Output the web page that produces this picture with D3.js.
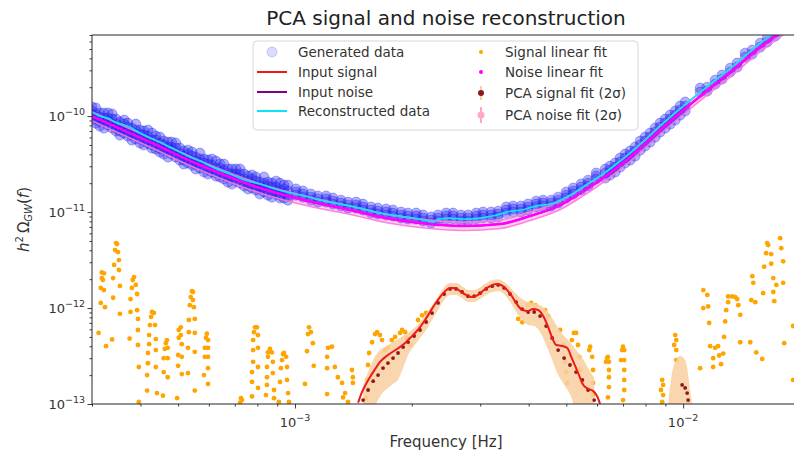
<!DOCTYPE html>
<html><head><meta charset="utf-8">
<script src="https://cdn.jsdelivr.net/npm/d3@7"></script>
<style>body{margin:0;background:#fff;} svg{display:block;font-family:"DejaVu Sans",sans-serif;}</style>
</head><body><svg id="c" width="794" height="453"></svg>
<script>
// ---------------- DATA ----------------
const xMajorTicks = [1e-3, 1e-2];
const xMajorExp = ["\u22123", "\u22122"];
const yMajorTicks = [1e-13, 1e-12, 1e-11, 1e-10];
const yMajorExp = ["\u221213", "\u221212", "\u221211", "\u221210"];

// Input noise / noise linear fit
const noiseFreq = [3.0e-4,4.23e-4,5.69e-4,8.12e-4,1.11e-3,1.39e-3,1.66e-3,2.10e-3,2.71e-3,3.38e-3,4.03e-3,4.82e-3,5.43e-3,6.11e-3,7.30e-3,8.72e-3,1.0e-2,1.174e-2,1.345e-2,1.58e-2,1.727e-2,2.0e-2];
const noiseOmega = [1.00e-10,5.36e-11,3.09e-11,1.78e-11,1.27e-11,1.05e-11,8.87e-12,7.68e-12,7.15e-12,7.50e-12,9.08e-12,1.18e-11,1.57e-11,2.15e-11,3.75e-11,7.15e-11,1.15e-10,1.95e-10,3.01e-10,5.23e-10,6.81e-10,1.05e-9];
// PCA noise fit: relative 2-sigma error
const pcaNoiseErr = [0.11,0.11,0.11,0.11,0.11,0.10,0.10,0.10,0.10,0.10,0.10,0.10,0.10,0.10,0.10,0.10,0.10,0.10,0.10,0.10,0.10,0.10];

// Reconstructed data
const reconFreq = [3.00e-4,3.14e-4,3.30e-4,3.44e-4,3.58e-4,3.75e-4,3.99e-4,4.23e-4,4.49e-4,4.76e-4,5.05e-4,5.36e-4,5.69e-4,6.22e-4,6.80e-4,7.44e-4,8.12e-4,8.88e-4,9.71e-4,1.061e-3,1.160e-3,1.306e-3,1.471e-3,1.656e-3,1.865e-3,2.100e-3,2.282e-3,2.337e-3,2.509e-3,2.743e-3,2.998e-3,3.220e-3,3.376e-3,3.582e-3,3.848e-3,4.157e-3,4.542e-3,4.82e-3,5.11e-3,5.43e-3,5.76e-3,6.11e-3,6.68e-3,7.30e-3,7.98e-3,8.72e-3,1.0e-2,1.174e-2,1.345e-2,1.58e-2,1.727e-2,2.0e-2];
const reconOmega = [1.10e-10,1.00e-10,9.53e-11,8.66e-11,8.25e-11,7.68e-11,6.65e-11,5.90e-11,5.36e-11,4.75e-11,4.22e-11,3.74e-11,3.40e-11,2.87e-11,2.49e-11,2.15e-11,1.96e-11,1.74e-11,1.58e-11,1.47e-11,1.33e-11,1.21e-11,1.10e-11,9.77e-12,9.09e-12,8.45e-12,7.87e-12,8.45e-12,8.66e-12,8.45e-12,8.66e-12,9.09e-12,9.53e-12,1.02e-11,1.05e-11,1.155e-11,1.21e-11,1.33e-11,1.50e-11,1.74e-11,2.05e-11,2.37e-11,3.09e-11,4.12e-11,5.62e-11,7.87e-11,1.27e-10,2.15e-10,3.32e-10,5.75e-10,7.50e-10,1.155e-9];

// Input signal
const signalFreq = [1.454e-3,1.488e-3,1.525e-3,1.561e-3,1.608e-3,1.656e-3,1.736e-3,1.832e-3,1.922e-3,1.979e-3,2.038e-3,2.100e-3,2.163e-3,2.228e-3,2.296e-3,2.364e-3,2.436e-3,2.509e-3,2.585e-3,2.662e-3,2.759e-3,2.860e-3,2.963e-3,3.070e-3,3.181e-3,3.296e-3,3.397e-3,3.50e-3,3.603e-3,3.712e-3,3.824e-3,3.963e-3,4.107e-3,4.23e-3,4.36e-3,4.49e-3,4.60e-3,4.71e-3,4.88e-3,5.03e-3,5.14e-3,5.27e-3,5.40e-3,5.53e-3,5.69e-3,5.86e-3,6.00e-3,6.11e-3];
const signalOmega = [1.03e-13,1.33e-13,1.62e-13,1.91e-13,2.31e-13,2.74e-13,3.24e-13,3.74e-13,4.32e-13,4.87e-13,5.49e-13,6.34e-13,7.50e-13,9.09e-13,1.10e-12,1.30e-12,1.50e-12,1.62e-12,1.62e-12,1.50e-12,1.37e-12,1.30e-12,1.37e-12,1.54e-12,1.69e-12,1.78e-12,1.74e-12,1.58e-12,1.37e-12,1.13e-12,9.76e-13,9.31e-13,9.76e-13,9.53e-13,8.25e-13,6.34e-13,4.87e-13,4.12e-13,4.02e-13,3.83e-13,3.16e-13,2.49e-13,1.96e-13,1.58e-13,1.44e-13,1.37e-13,1.21e-13,1.00e-13];

// PCA signal fit (2 sigma), main segment
const pcaSigFreq = [1.498e-3,1.543e-3,1.590e-3,1.637e-3,1.686e-3,1.736e-3,1.789e-3,1.843e-3,1.899e-3,1.956e-3,2.027e-3,2.100e-3,2.177e-3,2.255e-3,2.337e-3,2.422e-3,2.509e-3,2.601e-3,2.695e-3,2.792e-3,2.894e-3,2.998e-3,3.108e-3,3.220e-3,3.337e-3,3.458e-3,3.582e-3,3.713e-3,3.848e-3,3.987e-3,4.132e-3,4.280e-3,4.437e-3,4.598e-3,4.764e-3,4.936e-3,5.11e-3,5.30e-3,5.50e-3,5.69e-3,5.90e-3];
const pcaSigOmega = [1.10e-13,1.40e-13,1.73e-13,2.0e-13,2.37e-13,2.67e-13,3.01e-13,3.40e-13,3.92e-13,4.42e-13,5.11e-13,5.90e-13,7.15e-13,8.87e-13,1.13e-12,1.40e-12,1.58e-12,1.58e-12,1.47e-12,1.33e-12,1.33e-12,1.43e-12,1.58e-12,1.69e-12,1.74e-12,1.62e-12,1.40e-12,1.155e-12,9.76e-13,9.09e-13,9.09e-13,8.25e-13,6.49e-13,4.87e-13,3.65e-13,3.01e-13,2.55e-13,2.15e-13,1.78e-13,1.40e-13,1.10e-13];
const pcaSigHigh = [1.58e-13,2.15e-13,2.87e-13,3.48e-13,3.83e-13,4.12e-13,4.42e-13,4.75e-13,5.11e-13,5.49e-13,6.19e-13,7.15e-13,8.66e-13,1.07e-12,1.33e-12,1.65e-12,1.82e-12,1.82e-12,1.69e-12,1.54e-12,1.54e-12,1.65e-12,1.82e-12,1.96e-12,2.0e-12,1.87e-12,1.65e-12,1.40e-12,1.24e-12,1.155e-12,1.13e-12,1.07e-12,9.53e-13,7.87e-13,6.19e-13,5.11e-13,4.42e-13,3.65e-13,3.01e-13,2.37e-13,1.87e-13];
const pcaSigLow = [9e-14,9e-14,9e-14,1.10e-13,1.33e-13,1.47e-13,1.62e-13,1.78e-13,2.37e-13,3.24e-13,4.02e-13,4.87e-13,5.90e-13,7.50e-13,9.53e-13,1.21e-12,1.37e-12,1.37e-12,1.27e-12,1.155e-12,1.155e-12,1.24e-12,1.37e-12,1.47e-12,1.50e-12,1.40e-12,1.155e-12,9.09e-13,7.50e-13,6.65e-13,6.49e-13,5.62e-13,4.12e-13,2.87e-13,2.0e-13,1.58e-13,1.27e-13,9e-14,9e-14,9e-14,9e-14];
// PCA signal fit (2 sigma), high-frequency segment
const pcaSig2Freq = [9.15e-3,9.37e-3,9.60e-3,9.82e-3,9.94e-3,1.012e-2,1.024e-2,1.030e-2,1.042e-2,1.055e-2];
const pcaSig2Omega = [9e-14,9e-14,9e-14,9e-14,1.58e-13,1.47e-13,1.30e-13,1.10e-13,9e-14,9e-14];
const pcaSig2High = [1.0e-13,2.15e-13,2.87e-13,3.16e-13,3.10e-13,2.87e-13,2.37e-13,2.0e-13,1.40e-13,1.0e-13];
const pcaSig2Low = [9e-14,9e-14,9e-14,9e-14,9e-14,9e-14,9e-14,9e-14,9e-14,9e-14];

// Signal linear fit points [frequency, h^2 Omega]
const signalFitPoints = [
[3.12e-4,5.5e-13],[3.16e-4,1.13e-12],[3.16e-4,1.62e-12],[3.18e-4,2.05e-12],[3.18e-4,2.35e-12],[3.22e-4,2.3e-12],[3.20e-4,1.96e-12],[3.22e-4,1.54e-12],[3.24e-4,1.02e-12],[3.26e-4,4.0e-13],
[3.38e-4,4.7e-13],[3.40e-4,1.28e-12],[3.40e-4,2.05e-12],[3.42e-4,2.81e-12],[3.44e-4,4.02e-12],[3.46e-4,4.75e-12],[3.48e-4,4.65e-12],[3.50e-4,3.83e-12],[3.52e-4,3.16e-12],[3.52e-4,2.49e-12],[3.54e-4,1.70e-12],[3.54e-4,8.7e-13],
[3.75e-4,4.8e-13],[3.77e-4,9.1e-13],[3.77e-4,1.24e-12],[3.80e-4,1.62e-12],[3.82e-4,1.96e-12],[3.85e-4,2.1e-12],[3.89e-4,1.74e-12],[3.92e-4,1.40e-12],[3.92e-4,9.5e-13],[3.94e-4,7.7e-13],[3.94e-4,5.9e-13],[3.94e-4,4.12e-13],[3.96e-4,2.43e-13],[3.96e-4,1.05e-13],
[4.16e-4,1.38e-13],[4.16e-4,2.0e-13],[4.18e-4,2.66e-13],[4.18e-4,3.4e-13],[4.21e-4,4.2e-13],[4.21e-4,5.23e-13],[4.23e-4,6.65e-13],[4.26e-4,8.1e-13],[4.28e-4,9.1e-13],[4.33e-4,8.9e-13],[4.36e-4,6.65e-13],[4.38e-4,4.75e-13],[4.38e-4,3.65e-13],[4.38e-4,2.43e-13],[4.41e-4,1.3e-13],
[4.57e-4,1.22e-13],[4.59e-4,2.15e-13],[4.59e-4,3.0e-13],[4.62e-4,3.75e-13],[4.65e-4,4.3e-13],[4.68e-4,4.64e-13],[4.70e-4,3.85e-13],[4.70e-4,3.0e-13],[4.70e-4,1.9e-13],
[4.97e-4,1.15e-13],[5.00e-4,2.5e-13],[5.00e-4,3.24e-13],[5.02e-4,4.9e-13],[5.02e-4,5.9e-13],[5.08e-4,6.3e-13],[5.08e-4,5.23e-13],[5.11e-4,4.2e-13],[5.11e-4,3.1e-13],[5.11e-4,2.05e-13],
[5.30e-4,2.1e-13],[5.30e-4,3.85e-13],[5.33e-4,5.6e-13],[5.33e-4,7.5e-13],[5.36e-4,1.07e-12],[5.39e-4,1.30e-12],[5.43e-4,1.50e-12],[5.46e-4,1.47e-12],[5.46e-4,1.21e-12],[5.49e-4,1.02e-12],[5.52e-4,7.7e-13],[5.52e-4,5.5e-13],[5.52e-4,3.5e-13],[5.52e-4,1.38e-13],
[5.83e-4,2.0e-13],[5.86e-4,3.1e-13],[5.86e-4,3.85e-13],[5.90e-4,4.9e-13],[5.93e-4,5.4e-13],[5.97e-4,4.64e-13],[5.97e-4,3.85e-13],[5.97e-4,3.1e-13],[5.97e-4,2.36e-13],[5.97e-4,1.62e-13],
[7.22e-4,1.03e-13],[7.26e-4,1.15e-13],[7.30e-4,1.10e-13],
[7.75e-4,1.2e-13],[7.75e-4,1.7e-13],[7.75e-4,2.15e-13],[7.80e-4,2.75e-13],[7.80e-4,3.65e-13],[7.80e-4,4.64e-13],[7.84e-4,5.6e-13],[7.89e-4,6.3e-13],[7.98e-4,6.3e-13],[8.03e-4,5.23e-13],[8.03e-4,3.85e-13],[8.03e-4,2.43e-13],[8.03e-4,1.47e-13],
[8.42e-4,1.24e-13],[8.47e-4,1.58e-13],[8.47e-4,1.9e-13],[8.47e-4,2.43e-13],[8.52e-4,3.1e-13],[8.52e-4,3.45e-13],[8.62e-4,3.75e-13],[8.72e-4,3.45e-13],[8.77e-4,2.75e-13],[8.77e-4,2.1e-13],[8.83e-4,1.40e-13],[8.83e-4,1.15e-13],
[9.09e-4,1.05e-13],[9.15e-4,1.7e-13],[9.20e-4,2.36e-13],[9.26e-4,2.87e-13],[9.32e-4,3.3e-13],[9.37e-4,3.4e-13],[9.49e-4,3.1e-13],[9.54e-4,2.43e-13],[9.54e-4,1.78e-13],[9.60e-4,1.3e-13],[9.65e-4,1.05e-13],
[1.061e-3,1.62e-13],[1.074e-3,3.55e-13],[1.080e-3,5.35e-13],[1.087e-3,6.3e-13],[1.099e-3,5.6e-13],[1.112e-3,4.3e-13],[1.118e-3,2.5e-13],
[1.210e-3,1.27e-13],[1.210e-3,2.36e-13],[1.210e-3,3.1e-13],[1.217e-3,3.85e-13],[1.245e-3,3.95e-13],[1.267e-3,2.43e-13],[1.290e-3,1.9e-13],[1.322e-3,1.66e-13],[1.330e-3,1.17e-13],[1.346e-3,1.3e-13],[1.370e-3,1.05e-13],[1.402e-3,2.26e-13],[1.410e-3,1.9e-13],[1.410e-3,1.66e-13],
[1.525e-3,1.15e-13],[1.534e-3,1.78e-13],[1.543e-3,2.55e-13],[1.552e-3,3.4e-13],[1.580e-3,4.4e-13],[1.608e-3,5.35e-13],[1.627e-3,5.6e-13],[1.656e-3,5.23e-13],[1.676e-3,4.64e-13],[1.706e-3,3.65e-13],[1.736e-3,3.85e-13],[1.777e-3,4.64e-13],[1.811e-3,5.0e-13],[1.865e-3,5.5e-13],[1.888e-3,5.9e-13],[1.922e-3,5.6e-13],[1.945e-3,4.85e-13],[1.979e-3,4.12e-13],[2.075e-3,7.5e-13],[2.126e-3,8.4e-13],[2.177e-3,8.9e-13],
[3.76e-3,7.7e-13],[3.85e-3,7.1e-13],[3.98e-3,1.07e-12],[4.06e-3,1.13e-12],[4.16e-3,1.07e-12],[4.41e-3,9.5e-13],[4.49e-3,8.3e-13],
[4.82e-3,5.9e-13],[4.91e-3,4.12e-13],[4.97e-3,2.75e-13],[5.00e-3,2.15e-13],[5.03e-3,1.66e-13],
[5.17e-3,4.64e-13],[5.23e-3,5.5e-13],[5.30e-3,5.5e-13],[5.36e-3,4.12e-13],[5.40e-3,3.1e-13],[5.43e-3,2.26e-13],[5.46e-3,1.7e-13],
[5.73e-3,3.65e-13],[5.76e-3,3.95e-13],[5.83e-3,3.1e-13],[5.86e-3,2.26e-13],[5.86e-3,1.66e-13],[5.86e-3,1.24e-13],
[6.33e-3,2.75e-13],[6.37e-3,3.0e-13],[6.40e-3,3.1e-13],[6.44e-3,2.75e-13],[6.44e-3,2.26e-13],[6.44e-3,1.9e-13],[6.44e-3,1.5e-13],[6.40e-3,1.17e-13],
[6.92e-3,2.87e-13],[6.96e-3,3.65e-13],[7.00e-3,3.95e-13],[7.05e-3,3.65e-13],[7.05e-3,2.87e-13],[7.05e-3,2.26e-13],[7.05e-3,1.78e-13],[7.05e-3,1.40e-13],[7.00e-3,1.10e-13],
[8.77e-3,1.40e-13],[8.83e-3,1.78e-13],[8.88e-3,1.58e-13],[8.88e-3,1.24e-13],[8.83e-3,1.05e-13],
[9.48e-3,4.12e-13],[9.54e-3,5.23e-13],[9.60e-3,4.64e-13],[9.60e-3,3.65e-13],[9.60e-3,2.87e-13],
[1.106e-2,2.36e-13],[1.127e-2,1.54e-12],[1.154e-2,1.37e-12],[1.127e-2,1.0e-12],[1.160e-2,1.04e-12],[1.167e-2,7.0e-13],[1.174e-2,4.0e-13],[1.195e-2,3.0e-13],[1.209e-2,3.85e-13],[1.230e-2,4.0e-13],[1.238e-2,3.2e-13],[1.195e-2,2.43e-13],[1.252e-2,2.6e-13],[1.268e-2,3.35e-13],
[1.275e-2,5.0e-13],[1.283e-2,7.25e-13],[1.291e-2,9.5e-13],[1.306e-2,1.15e-12],[1.306e-2,1.32e-12],[1.338e-2,1.32e-12],[1.362e-2,1.30e-12],[1.378e-2,1.24e-12],[1.387e-2,1.07e-12],[1.403e-2,8.5e-13],[1.403e-2,4.4e-13],[1.489e-2,4.4e-13],[1.543e-2,3.45e-13],[1.598e-2,2.95e-13],
[1.507e-2,2.15e-12],[1.516e-2,1.83e-12],[1.498e-2,1.21e-12],[1.534e-2,1.15e-12],[1.607e-2,1.43e-12],[1.617e-2,2.7e-12],[1.636e-2,3.73e-12],[1.646e-2,4.75e-12],[1.656e-2,4.53e-12],[1.686e-2,3.65e-12],[1.686e-2,2.9e-12],[1.707e-2,2.05e-12],[1.707e-2,1.47e-12],[1.717e-2,1.18e-12],
[1.738e-2,1.74e-12],[1.778e-2,5.35e-12],[1.789e-2,4.2e-12],[1.810e-2,3.07e-12],[1.810e-2,1.83e-12],[1.821e-2,4.3e-13],[1.92e-2,6.5e-13],[1.92e-2,1.78e-13]
];

// Generated data: frequency bins and the realisations drawn in each bin
const genFreq = [3.00e-4,3.14e-4,3.30e-4,3.46e-4,3.63e-4,3.80e-4,3.99e-4,4.18e-4,4.38e-4,4.59e-4,4.81e-4,5.05e-4,5.30e-4,5.55e-4,5.83e-4,6.11e-4,6.41e-4,6.72e-4,7.05e-4,7.40e-4,7.75e-4,8.12e-4,8.52e-4,8.94e-4,9.37e-4,
1.006e-3,1.099e-3,1.203e-3,1.314e-3,1.437e-3,1.570e-3,1.717e-3,1.876e-3,2.052e-3,2.242e-3,2.451e-3,2.678e-3,2.929e-3,3.201e-3,3.50e-3,3.824e-3,4.182e-3,4.570e-3,4.994e-3,5.46e-3,5.97e-3,
6.30e-3,6.68e-3,7.09e-3,7.52e-3,7.98e-3,8.47e-3,8.99e-3,9.54e-3,1.012e-2,
1.106e-2,1.209e-2,1.322e-2,1.445e-2,1.580e-2,1.727e-2,1.887e-2,
3.07e-4,3.22e-4,3.38e-4,3.54e-4,3.71e-4,3.89e-4,4.08e-4,4.28e-4,4.49e-4,4.71e-4,4.93e-4,5.17e-4,5.43e-4,5.69e-4,5.97e-4,6.26e-4,6.56e-4,6.88e-4,7.22e-4,7.57e-4,7.93e-4,8.32e-4,8.72e-4,9.15e-4,9.59e-4,
1.049e-3,1.146e-3,1.253e-3,1.370e-3,1.497e-3,1.636e-3,1.789e-3,1.955e-3,2.138e-3,2.337e-3,2.554e-3,2.792e-3,3.052e-3,3.336e-3,3.647e-3,3.986e-3,4.357e-3,4.763e-3,5.21e-3,5.69e-3,
6.48e-3,6.88e-3,7.30e-3,7.75e-3,8.22e-3,8.72e-3,9.26e-3,9.82e-3,
1.153e-2,1.260e-2,1.378e-2,1.506e-2,1.646e-2,1.800e-2];
const genOmega = [
[1.241e-10,1.128e-10,1.024e-10,9.09e-11],[1.075e-10,9.76e-11,8.87e-11,7.87e-11],[1.075e-10,9.53e-11,8.87e-11,8.06e-11],[9.31e-11,8.25e-11,7.68e-11,6.98e-11],
[9.09e-11,8.25e-11,7.32e-11,6.65e-11],[7.50e-11,6.81e-11,6.34e-11,5.62e-11],[7.15e-11,6.49e-11,5.90e-11,5.23e-11],[7.15e-11,6.19e-11,5.62e-11,5.23e-11],
[6.19e-11,5.62e-11,5.11e-11,4.53e-11],[5.49e-11,4.99e-11,4.53e-11,4.02e-11],[5.36e-11,4.75e-11,4.42e-11,4.02e-11],[4.64e-11,4.12e-11,3.83e-11,3.48e-11],
[4.42e-11,4.02e-11,3.57e-11,3.24e-11],[3.74e-11,3.40e-11,3.16e-11,2.81e-11],[3.57e-11,3.24e-11,2.94e-11,2.61e-11],[3.57e-11,3.09e-11,2.81e-11,2.61e-11],
[3.16e-11,2.87e-11,2.61e-11,2.32e-11],[2.81e-11,2.55e-11,2.32e-11,2.05e-11],[2.81e-11,2.49e-11,2.32e-11,2.10e-11],[2.49e-11,2.21e-11,2.05e-11,1.87e-11],
[2.43e-11,2.21e-11,1.96e-11,1.78e-11],[2.05e-11,1.87e-11,1.74e-11,1.54e-11],[2.05e-11,1.87e-11,1.70e-11,1.50e-11],[2.10e-11,1.82e-11,1.66e-11,1.54e-11],
[1.91e-11,1.74e-11,1.58e-11,1.40e-11],
[1.74e-11,1.62e-11,1.50e-11],[1.54e-11,1.43e-11,1.33e-11],[1.47e-11,1.37e-11,1.27e-11],[1.33e-11,1.24e-11,1.155e-11],[1.27e-11,1.18e-11,1.10e-11],
[1.13e-11,1.05e-11,9.76e-12],[1.075e-11,1.0e-11,9.31e-12],[1.0e-11,9.31e-12,8.66e-12],[9.76e-12,9.09e-12,8.45e-12],[8.87e-12,8.25e-12,7.68e-12],
[9.76e-12,9.09e-12,8.45e-12],[9.31e-12,8.66e-12,8.06e-12],[9.76e-12,9.09e-12,8.45e-12],[1.0e-11,9.31e-12,8.66e-12],[1.13e-11,1.05e-11,9.76e-12],
[1.155e-11,1.075e-11,1.0e-11],[1.30e-11,1.21e-11,1.13e-11],[1.33e-11,1.24e-11,1.155e-11],[1.62e-11,1.50e-11,1.40e-11],[1.96e-11,1.82e-11,1.70e-11],
[2.55e-11,2.37e-11,2.21e-11],
[2.81e-11,2.55e-11,2.26e-11],[3.24e-11,2.94e-11,2.61e-11],[4.02e-11,3.65e-11,3.24e-11],[4.75e-11,4.32e-11,3.83e-11],[6.04e-11,5.49e-11,4.87e-11],
[7.50e-11,6.81e-11,6.04e-11],[9.31e-11,8.45e-11,7.50e-11],[1.128e-10,1.024e-10,9.09e-11],[1.40e-10,1.27e-10,1.13e-10],
[1.96e-10,1.78e-10],[2.37e-10,2.15e-10],[3.16e-10,2.87e-10],[4.53e-10,4.12e-10],[5.76e-10,5.23e-10],[7.50e-10,6.81e-10],[9.76e-10,8.87e-10],
[1.212e-10,1.049e-10,9.31e-11,8.45e-11],[1.075e-10,9.53e-11,8.87e-11,7.50e-11],[1.049e-10,9.31e-11,8.25e-11,7.50e-11],[8.66e-11,7.68e-11,6.98e-11,6.34e-11],
[8.45e-11,7.68e-11,6.81e-11,6.19e-11],[8.25e-11,7.15e-11,6.49e-11,5.76e-11],[6.98e-11,6.34e-11,5.62e-11,4.99e-11],[6.65e-11,5.62e-11,4.99e-11,4.64e-11],
[6.04e-11,5.23e-11,4.64e-11,4.22e-11],[5.36e-11,4.75e-11,4.42e-11,3.74e-11],[5.23e-11,4.64e-11,4.12e-11,3.74e-11],[4.32e-11,3.83e-11,3.48e-11,3.16e-11],
[4.22e-11,3.83e-11,3.40e-11,3.09e-11],[4.12e-11,3.57e-11,3.24e-11,2.87e-11],[3.48e-11,3.16e-11,2.81e-11,2.49e-11],[3.40e-11,2.87e-11,2.55e-11,2.37e-11],
[3.16e-11,2.74e-11,2.43e-11,2.21e-11],[2.81e-11,2.49e-11,2.32e-11,1.96e-11],[2.81e-11,2.49e-11,2.21e-11,2.0e-11],[2.37e-11,2.10e-11,1.91e-11,1.74e-11],
[2.32e-11,2.10e-11,1.87e-11,1.70e-11],[2.32e-11,2.0e-11,1.82e-11,1.62e-11],[2.0e-11,1.82e-11,1.62e-11,1.43e-11],[2.0e-11,1.70e-11,1.50e-11,1.40e-11],
[1.91e-11,1.66e-11,1.47e-11,1.33e-11],
[1.655e-11,1.54e-11,1.43e-11],[1.47e-11,1.37e-11,1.27e-11],[1.40e-11,1.30e-11,1.21e-11],[1.27e-11,1.18e-11,1.10e-11],[1.21e-11,1.13e-11,1.05e-11],
[1.10e-11,1.02e-11,9.53e-12],[1.05e-11,9.76e-12,9.09e-12],[9.76e-12,9.09e-12,8.45e-12],[9.31e-12,8.66e-12,8.06e-12],[9.31e-12,8.66e-12,8.06e-12],
[9.76e-12,9.09e-12,8.45e-12],[9.31e-12,8.66e-12,8.06e-12],[1.0e-11,9.31e-12,8.66e-12],[1.02e-11,9.53e-12,8.87e-12],[1.155e-11,1.075e-11,1.0e-11],
[1.21e-11,1.13e-11,1.05e-11],[1.33e-11,1.24e-11,1.155e-11],[1.43e-11,1.33e-11,1.24e-11],[1.78e-11,1.655e-11,1.54e-11],[2.15e-11,2.0e-11,1.87e-11],
[3.01e-11,2.74e-11,2.43e-11],[3.65e-11,3.32e-11,2.94e-11],[4.32e-11,3.92e-11,3.48e-11],[5.49e-11,4.99e-11,4.42e-11],
[6.65e-11,6.04e-11,5.36e-11],[8.45e-11,7.68e-11,6.81e-11],[1.024e-10,9.31e-11,8.25e-11],[1.271e-10,1.155e-10,1.024e-10],
[2.0e-10,1.82e-10],[2.674e-10,2.43e-10],[3.565e-10,3.24e-10],[4.87e-10,4.42e-10],[6.49e-10,5.90e-10],[9.31e-10,8.45e-10]
];

const legendLeftLabels = ["Generated data", "Input signal", "Input noise", "Reconstructed data"];
const legendRightLabels = ["Signal linear fit", "Noise linear fit", "PCA signal fit (2\u03c3)", "PCA noise fit (2\u03c3)"];

// ---------------- DRAWING ----------------
const C = {
  gen: "rgba(40,40,240,0.36)", genStroke: "rgba(30,30,255,0.42)",
  signal: "#ee1a1a", noise: "#800080", recon: "#12e2f5",
  sigFit: "#ffa500", noiseFit: "#ff00ff", pcaSig: "#8b1a1a", pcaSigBand: "#f8cfa0",
  pcaNoise: "#ffa6c9", axis: "#262626", text: "#333"
};
const X0 = 92, X1 = 800, Y0 = 35, Y1 = 404;
const x = d3.scaleLog().domain([3e-4, 2e-2]).range([X0, X1]);
const y = d3.scaleLog().domain([1e-13, 7e-10]).range([Y1, Y0]);

const svg = d3.select("#c");
svg.append("rect").attr("width", 794).attr("height", 453).attr("fill", "#fff");
svg.append("defs").append("clipPath").attr("id", "clip")
  .append("rect").attr("x", X0).attr("y", Y0).attr("width", X1 - X0).attr("height", Y1 - Y0);
const plot = svg.append("g").attr("clip-path", "url(#clip)");

// noise PCA band (fill)
const noiseRows = noiseFreq.map((f, i) => ({ f, v: noiseOmega[i], e: pcaNoiseErr[i] }));
plot.append("path").datum(noiseRows)
  .attr("d", d3.area().x(d => x(d.f)).y0(d => y(d.v * (1 - d.e))).y1(d => y(d.v * (1 + d.e))).curve(d3.curveMonotoneX))
  .attr("fill", "rgba(255,120,210,0.35)");

// generated data
const genPts = genFreq.flatMap((f, i) => genOmega[i].map(v => ({ f, v })));
plot.append("g").selectAll("circle").data(genPts).join("circle")
  .attr("cx", d => x(d.f)).attr("cy", d => y(d.v)).attr("r", 5)
  .attr("fill", C.gen).attr("stroke", C.genStroke).attr("stroke-width", 0.8);

// noise band edges
const lineF = (acc) => d3.line().x(d => x(d.f)).y(acc).curve(d3.curveMonotoneX);
plot.append("path").datum(noiseRows).attr("d", lineF(d => y(d.v * (1 + d.e))))
  .attr("fill", "none").attr("stroke", "rgba(255,120,215,0.9)").attr("stroke-width", 1.6);
plot.append("path").datum(noiseRows).attr("d", lineF(d => y(d.v * (1 - d.e))))
  .attr("fill", "none").attr("stroke", "rgba(255,120,215,0.9)").attr("stroke-width", 1.6);

// input noise + noise linear fit
plot.append("path").datum(noiseRows).attr("d", lineF(d => y(d.v)))
  .attr("fill", "none").attr("stroke", C.noise).attr("stroke-width", 1.6);
plot.append("path").datum(noiseRows).attr("d", lineF(d => y(d.v)))
  .attr("fill", "none").attr("stroke", C.noiseFit).attr("stroke-width", 2.6);

// reconstructed
const reconRows = reconFreq.map((f, i) => ({ f, v: reconOmega[i] }));
plot.append("path").datum(reconRows).attr("d", lineF(d => y(d.v)))
  .attr("fill", "none").attr("stroke", C.recon).attr("stroke-width", 1.7);

// signal linear fit points
plot.append("g").selectAll("circle").data(signalFitPoints).join("circle")
  .attr("cx", d => x(d[0])).attr("cy", d => y(d[1])).attr("r", 2.4).attr("fill", C.sigFit);

// PCA signal fit bands + points
const seg1 = pcaSigFreq.map((f, i) => ({ f, v: pcaSigOmega[i], lo: pcaSigLow[i], hi: pcaSigHigh[i] }));
const seg2 = pcaSig2Freq.map((f, i) => ({ f, v: pcaSig2Omega[i], lo: pcaSig2Low[i], hi: pcaSig2High[i] }));
const bandA = d3.area().x(d => x(d.f)).y0(d => y(d.lo)).y1(d => y(d.hi)).curve(d3.curveMonotoneX);
[seg1, seg2].forEach(seg => {
  plot.append("path").datum(seg).attr("d", bandA).attr("fill", C.pcaSigBand).attr("opacity", 0.85);
});
plot.append("g").selectAll("circle").data(seg1.concat(seg2)).join("circle")
  .attr("cx", d => x(d.f)).attr("cy", d => y(d.v)).attr("r", 1.9).attr("fill", C.pcaSig);

// input signal
const sigRows = signalFreq.map((f, i) => ({ f, v: signalOmega[i] }));
plot.append("path").datum(sigRows).attr("d", lineF(d => y(d.v)))
  .attr("fill", "none").attr("stroke", C.signal).attr("stroke-width", 2);

// ---------------- AXES ----------------
const xMinor = x.ticks().filter(t => !xMajorTicks.some(m => Math.abs(m - t) / m < 1e-6));
const yMinor = y.ticks().filter(t => !yMajorTicks.some(m => Math.abs(m - t) / m < 1e-6));

function styleAxis(g) {
  g.select(".domain").remove();
  g.selectAll("line").attr("stroke", C.axis).attr("stroke-width", 0.9);
}
svg.append("g").attr("transform", `translate(0,${Y1})`)
  .call(d3.axisBottom(x).tickValues(xMinor).tickSize(2.5).tickFormat("")).call(styleAxis);
svg.append("g").attr("transform", `translate(0,${Y1})`)
  .call(d3.axisBottom(x).tickValues(xMajorTicks).tickSize(4.5).tickFormat("")).call(styleAxis);
svg.append("g").attr("transform", `translate(${X0},0)`)
  .call(d3.axisLeft(y).tickValues(yMinor).tickSize(2.5).tickFormat("")).call(styleAxis);
svg.append("g").attr("transform", `translate(${X0},0)`)
  .call(d3.axisLeft(y).tickValues(yMajorTicks).tickSize(4.5).tickFormat("")).call(styleAxis);

// spines
svg.append("line").attr("x1", X0).attr("x2", X0).attr("y1", Y0).attr("y2", Y1).attr("stroke", C.axis).attr("stroke-width", 1);
svg.append("line").attr("x1", X0).attr("x2", 794).attr("y1", Y1).attr("y2", Y1).attr("stroke", C.axis).attr("stroke-width", 1);
svg.append("line").attr("x1", X0).attr("x2", 794).attr("y1", Y0).attr("y2", Y0).attr("stroke", C.axis).attr("stroke-width", 1);

function powLabel(px, py, exp, anchor) {
  const t = svg.append("text").attr("x", px).attr("y", py).attr("text-anchor", anchor)
    .attr("font-size", 13).attr("fill", C.text);
  t.append("tspan").text("10");
  t.append("tspan").attr("dy", -6).attr("font-size", 9.5).text(exp);
}
xMajorTicks.forEach((t, i) => powLabel(x(t), 427, xMajorExp[i], "middle"));
yMajorTicks.forEach((t, i) => powLabel(X0 - 7, y(t) + 5, yMajorExp[i], "end"));

// titles
svg.append("text").attr("x", 446).attr("y", 25).attr("text-anchor", "middle")
  .attr("font-size", 20).attr("fill", "#222").text("PCA signal and noise reconstruction");
svg.append("text").attr("x", 446).attr("y", 447).attr("text-anchor", "middle")
  .attr("font-size", 15).attr("fill", C.text).text("Frequency [Hz]");
const yl = svg.append("text").attr("transform", `translate(29,${(Y0 + Y1) / 2}) rotate(-90)`)
  .attr("text-anchor", "middle").attr("font-size", 15).attr("fill", C.text);
yl.append("tspan").attr("font-style", "italic").text("h");
yl.append("tspan").attr("font-size", 10).attr("dy", -6).text("2");
yl.append("tspan").attr("dy", 6).text("\u2009\u03a9");
yl.append("tspan").attr("font-size", 10).attr("dy", 3).attr("font-style", "italic").text("GW");
yl.append("tspan").attr("dy", -3).text("(");
yl.append("tspan").attr("font-style", "italic").text("f");
yl.append("tspan").text(")");

// ---------------- LEGEND ----------------
const lg = svg.append("g");
lg.append("rect").attr("x", 253).attr("y", 41).attr("width", 385).attr("height", 89).attr("rx", 4)
  .attr("fill", "rgba(255,255,255,0.85)").attr("stroke", "#d6d6d6").attr("stroke-width", 1);
const leftRows = [52, 72, 92, 111];
const rightRows = [52, 72, 93, 115];
legendLeftLabels.forEach((lab, i) => {
  const cy = leftRows[i];
  if (i === 0) {
    lg.append("circle").attr("cx", 272).attr("cy", cy).attr("r", 5).attr("fill", "rgba(60,60,255,0.18)").attr("stroke", "rgba(30,30,255,0.2)");
  } else {
    const col = [null, C.signal, C.noise, C.recon][i];
    lg.append("line").attr("x1", 257).attr("x2", 287).attr("y1", cy).attr("y2", cy).attr("stroke", col).attr("stroke-width", 2);
  }
  lg.append("text").attr("x", 298).attr("y", cy + 5).attr("font-size", 13.5).attr("fill", C.text).text(lab);
});
legendRightLabels.forEach((lab, i) => {
  const cy = rightRows[i];
  if (i === 0) lg.append("circle").attr("cx", 481).attr("cy", cy).attr("r", 2).attr("fill", C.sigFit);
  if (i === 1) lg.append("circle").attr("cx", 481).attr("cy", cy).attr("r", 2).attr("fill", C.noiseFit);
  if (i === 2) {
    lg.append("line").attr("x1", 481).attr("x2", 481).attr("y1", cy - 7).attr("y2", cy + 7).attr("stroke", C.pcaSigBand).attr("stroke-width", 2);
    lg.append("circle").attr("cx", 481).attr("cy", cy).attr("r", 3).attr("fill", C.pcaSig);
  }
  if (i === 3) {
    lg.append("line").attr("x1", 481).attr("x2", 481).attr("y1", cy - 8).attr("y2", cy + 8).attr("stroke", C.pcaNoise).attr("stroke-width", 2);
    lg.append("circle").attr("cx", 481).attr("cy", cy).attr("r", 3.5).attr("fill", C.pcaNoise);
  }
  lg.append("text").attr("x", 505).attr("y", cy + 5).attr("font-size", 13.5).attr("fill", C.text).text(lab);
});
</script></body></html>
